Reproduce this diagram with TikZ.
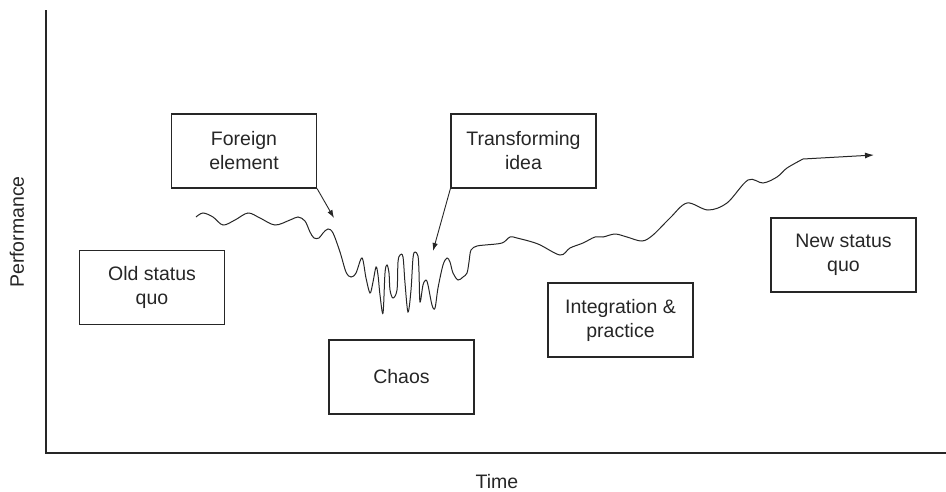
\documentclass[tikz,border=0pt]{standalone}
\usepackage{fontspec}
\setmainfont{Liberation Sans}
\usetikzlibrary{arrows.meta}
\begin{document}
\begin{tikzpicture}[x=1pt,y=-1pt,
  lbl/.style={font=\fontsize{19.5}{24}\selectfont, text=black!85},
  box/.style={lbl, draw=black!85, line width=1.2pt, minimum width=145pt, minimum height=74pt, align=center, inner sep=0pt},
  conn/.style={line width=0.9pt, black!85, -{Latex[length=8pt,width=5.5pt]}},
  curve/.style={line width=1pt, black!85}]
\useasboundingbox (0,0) rectangle (946,491);
% axes
\coordinate (ytop) at (46,10);
\coordinate (orig) at (46,453);
\coordinate (xend) at (946,453);
\draw[line width=1.2pt, black!85] (ytop) -- (orig) -- (xend);
\node[lbl, rotate=90] (perf) at (17,232) {Performance};
\node[lbl, anchor=base, inner sep=0pt] (time) at (497,488) {Time};
% boxes
\node[box] (foreign) at (244,151) {Foreign\\element};
\node[box] (transf) at (523.5,151) {Transforming\\idea};
\node[box] (old) at (152,287.5) {Old status\\quo};
\node[box] (chaos) at (401.5,377) {Chaos};
\node[box] (integ) at (620.5,320) {Integration \&\\practice};
\node[box] (new) at (843.5,255) {New status\\quo};
% performance curve
\coordinate (cend) at (874,155);
\draw[curve, -{Latex[length=9pt,width=6pt]}] plot[smooth, tension=0.55] coordinates {
(196,217) (203,213) (213,217) (223,225) (235,220) (248,213) (260,218) (275,225) (290,220) (298,217) (305,221) (310,232) (314,238) (319,238) (323,233) (328,229) (333,233) (340,252) (346,272) (351,277) (356,273) (362,258) (366,278) (370,293) (373,282) (376,267) (378,275) (380,295) (383,313) (385,273) (387,265) (389,273) (390,290) (393,298) (397,290) (398,262) (400,255) (403,257) (405,283) (408,312) (411,290) (413,258) (415,252) (418,256) (419,272) (420,302) (423,285) (426,280) (428,285) (432,305) (435,308) (438,288) (443,265) (447,258) (450,262) (453,273) (458,280) (463,277) (467,273) (469,262) (471,250) (477,246) (485,245) (502,243) (510,237) (517,238) (538,244) (560,255) (570,248) (583,243) (595,237) (603,237) (615,234) (627,237) (642,241) (653,235) (670,218) (687,203) (708,210) (727,203) (748,180) (763,183) (777,177) (787,168) (803,159)} -- (cend);
% pointers
\coordinate (fe) at (334,218);
\coordinate (ti) at (433,251);
\draw[conn] (foreign.south east) -- (fe);
\draw[conn] (transf.south west) -- (ti);
\end{tikzpicture}
\end{document}
